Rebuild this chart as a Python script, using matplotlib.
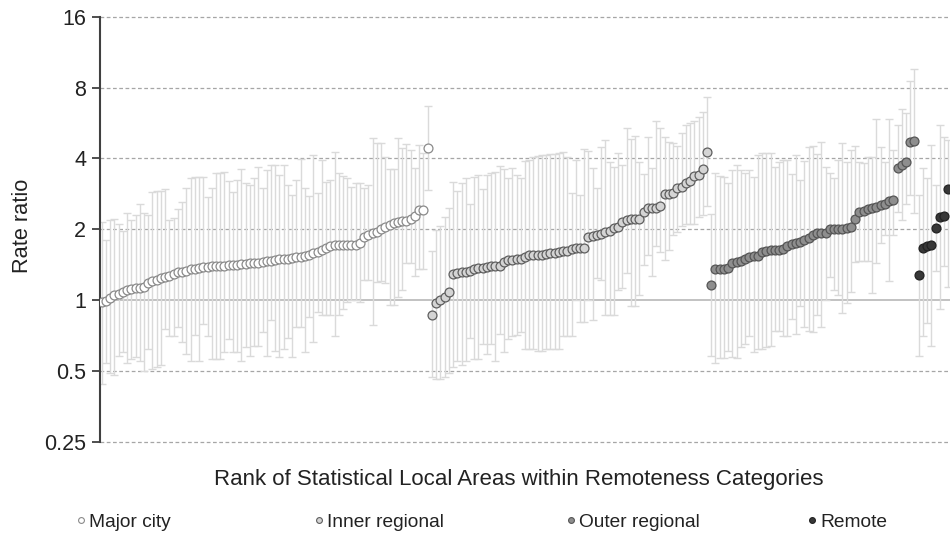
import numpy as np
import matplotlib
matplotlib.use("Agg")
import matplotlib.pyplot as plt
from matplotlib.lines import Line2D

plt.rcParams['font.family'] = ['Liberation Sans', 'DejaVu Sans']

# Rate ratios with 95% confidence limits, ranked within remoteness category
major_rr = [0.98, 0.99, 1.02, 1.05, 1.06, 1.085, 1.10, 1.11, 1.12, 1.13, 1.14, 1.18, 1.21, 1.22,
            1.24, 1.25, 1.26, 1.29, 1.31, 1.32, 1.33, 1.35, 1.36, 1.37, 1.375, 1.385, 1.39, 1.395,
            1.40, 1.40, 1.41, 1.41, 1.415, 1.42, 1.42, 1.43, 1.435, 1.44,
            1.45, 1.46, 1.47, 1.48, 1.49, 1.49, 1.50, 1.51, 1.52, 1.53, 1.54, 1.56, 1.58, 1.60,
            1.63, 1.67, 1.70, 1.71, 1.72, 1.72, 1.72, 1.72, 1.72, 1.74, 1.86, 1.89, 1.92, 1.95,
            2.00, 2.04, 2.08, 2.13, 2.15, 2.17, 2.17, 2.22, 2.27, 2.41, 2.41, 4.43]
major_lo = [0.44, 0.54, 0.49, 0.48, 0.58, 0.60, 0.54, 0.56, 0.57, 0.55, 0.50, 0.62, 0.51, 0.52,
            0.53, 0.75, 0.70, 0.70, 0.77, 0.66, 0.59, 0.55, 0.71, 0.55, 0.79, 0.70, 0.56, 0.56,
            0.56, 0.60, 0.68, 0.60, 0.60, 0.55, 0.63, 0.58, 0.64, 0.64, 0.73, 0.58, 0.82, 0.61,
            0.57, 0.62, 0.69, 0.57, 0.77, 0.77, 0.60, 0.85, 0.66, 0.89, 0.86, 0.86, 0.86, 0.70,
            0.86, 0.92, 0.98, 1.00, 1.00, 0.98, 1.22, 1.22, 0.78, 1.19, 1.21, 1.18, 0.95, 0.95,
            1.03, 1.10, 1.43, 1.43, 1.26, 1.36, 1.36, 2.93]
major_hi = [2.15, 1.80, 2.19, 2.22, 2.10, 1.97, 2.34, 2.19, 2.30, 2.56, 2.34, 2.30, 2.88, 2.90,
            2.92, 2.95, 2.19, 2.23, 2.43, 2.60, 3.00, 3.29, 3.34, 3.34, 3.34, 2.73, 3.00, 3.47,
            3.47, 3.51, 3.20, 2.88, 3.23, 3.60, 3.15, 3.08, 3.30, 3.66, 2.98, 3.57, 3.75, 3.75,
            3.39, 3.75, 3.08, 2.79, 3.25, 3.96, 3.00, 2.77, 4.13, 2.84, 3.93, 3.18, 3.23, 4.24,
            3.45, 3.35, 3.29, 3.03, 3.15, 3.15, 3.00, 3.08, 4.89, 4.66, 4.66, 4.06, 3.59, 3.60,
            4.89, 4.41, 4.60, 4.34, 3.65, 4.55, 4.20, 6.68]

inner_rr = [0.86, 0.97, 1.00, 1.03, 1.085, 1.29, 1.30, 1.31, 1.32, 1.33, 1.36, 1.37, 1.37, 1.385,
            1.39, 1.40, 1.40, 1.455, 1.48, 1.48, 1.49, 1.49, 1.53, 1.55, 1.55, 1.55, 1.56, 1.565,
            1.58, 1.59, 1.60, 1.61, 1.61, 1.64, 1.67, 1.67, 1.67, 1.86, 1.87, 1.89, 1.91, 1.94,
            1.97, 2.02, 2.04, 2.15, 2.19, 2.22, 2.22, 2.22, 2.37, 2.45, 2.46, 2.47, 2.51, 2.82,
            2.82, 2.84, 2.98, 3.03, 3.15, 3.21, 3.37, 3.40, 3.61, 4.27]
inner_lo = [0.47, 0.46, 0.46, 0.47, 0.49, 0.52, 0.55, 0.53, 0.55, 0.69, 0.56, 0.56, 0.65, 0.59,
            0.65, 0.55, 0.72, 0.60, 0.68, 0.70, 0.71, 0.73, 0.62, 0.62, 0.62, 0.61, 0.61, 0.62,
            0.62, 0.62, 0.62, 0.70, 0.70, 0.70, 1.00, 0.81, 0.81, 1.00, 0.82, 1.24, 1.22, 0.86,
            0.86, 0.86, 1.10, 1.12, 1.30, 0.94, 0.94, 1.05, 1.41, 1.55, 1.26, 1.69, 1.60, 1.48,
            1.63, 1.89, 1.95, 2.07, 2.10, 2.10, 2.10, 2.26, 2.30, 2.51]
inner_hi = [1.62, 1.98, 2.07, 2.26, 2.45, 3.18, 2.91, 3.13, 3.29, 2.56, 3.34, 3.39, 2.96, 3.39,
            3.47, 3.50, 3.71, 3.59, 3.29, 3.63, 3.39, 3.30, 3.90, 3.95, 4.06, 4.10, 4.13, 4.15,
            4.17, 4.17, 4.22, 4.25, 4.06, 2.85, 3.93, 2.79, 4.37, 4.30, 3.63, 2.98, 4.45, 4.79,
            3.87, 3.69, 4.22, 3.75, 5.37, 4.83, 4.98, 3.87, 3.43, 4.94, 3.63, 5.74, 5.37, 4.94,
            4.70, 4.63, 4.51, 5.13, 5.55, 5.63, 5.78, 6.00, 6.30, 7.29]

outer_rr = [1.16, 1.36, 1.36, 1.36, 1.37, 1.43, 1.455, 1.47, 1.49, 1.53, 1.54, 1.54, 1.60, 1.62,
            1.63, 1.63, 1.63, 1.64, 1.70, 1.73, 1.74, 1.77, 1.80, 1.83, 1.89, 1.92, 1.93, 1.93,
            2.00, 2.00, 2.01, 2.01, 2.03, 2.05, 2.22, 2.37, 2.38, 2.43, 2.46, 2.49, 2.53, 2.57,
            2.63, 2.66, 3.63, 3.75, 3.87, 4.70, 4.75]
outer_lo = [0.58, 0.54, 0.565, 0.565, 0.61, 0.57, 0.565, 0.63, 0.65, 0.70, 0.60, 0.62, 0.62, 0.63,
            0.64, 0.74, 0.74, 0.70, 0.70, 0.83, 0.72, 0.94, 0.77, 0.74, 0.73, 0.86, 0.77, 1.00,
            1.25, 1.10, 1.05, 0.88, 0.97, 1.085, 1.455, 1.47, 1.47, 1.46, 1.07, 1.43, 1.75, 1.89,
            1.20, 1.89, 2.37, 2.19, 2.57, 2.79, 2.35]
outer_hi = [2.32, 3.47, 3.37, 3.32, 3.13, 3.57, 3.75, 3.57, 3.47, 3.57, 3.34, 4.13, 4.20, 4.20,
            4.20, 3.69, 3.87, 3.93, 3.93, 3.43, 4.13, 3.25, 3.90, 4.45, 4.51, 4.17, 4.70, 3.69,
            3.45, 3.29, 3.93, 4.66, 3.87, 4.34, 4.51, 3.87, 3.83, 4.06, 4.06, 5.88, 4.45, 3.87,
            5.90, 4.34, 5.55, 6.50, 6.21, 8.50, 9.60]

remote_rr = [1.28, 1.67, 1.70, 1.72, 2.02, 2.25, 2.27, 2.96]
remote_lo = [0.58, 0.70, 0.80, 0.64, 1.33, 0.92, 1.39, 1.14]
remote_hi = [2.79, 3.63, 3.30, 4.55, 3.08, 5.55, 4.94, 4.80]

categories = ["Major city", "Inner regional", "Outer regional", "Remote"]
y_ticks = [0.25, 0.5, 1, 2, 4, 8, 16]
y_ticklabels = ["0.25", "0.5", "1", "2", "4", "8", "16"]

series = [
    (major_rr, major_lo, major_hi),
    (inner_rr, inner_lo, inner_hi),
    (outer_rr, outer_lo, outer_hi),
    (remote_rr, remote_lo, remote_hi),
]
face = ["#ffffff", "#d4d4d4", "#8e8e8e", "#383838"]
edge = ["#8a8a8a", "#5e5e5e", "#555555", "#222222"]

fig = plt.figure(figsize=(9.5, 5.47), dpi=100)
ax = fig.add_axes([100 / 950, 1 - 441.7 / 547, 1 - 100 / 950, (441.7 - 16.7) / 547])

ax.set_yscale("log", base=2)
ax.set_ylim(0.25, 16)

# reference lines
for t in y_ticks:
    if t == 1:
        ax.axhline(t, color="#b8b8b8", lw=1.2, zorder=0.5)
    else:
        ax.axhline(t, color="#a6a6a6", lw=0.9, ls=(0, (3, 2)), zorder=0.5, clip_on=False)

start = 0
markers = []
for (rr, lo, hi), fc, ec in zip(series, face, edge):
    rr = np.array(rr)
    lo = np.array(lo)
    hi = np.array(hi)
    x = np.arange(start, start + len(rr))
    ax.errorbar(x, rr, yerr=[rr - lo, hi - rr], fmt="none", ecolor="#dadada",
                elinewidth=1.0, capsize=2.8, capthick=1.0, zorder=1)
    markers.append((x, rr, fc, ec))
    start += len(rr)

for x, rr, fc, ec in markers:
    ax.plot(x, rr, "o", ms=6.4, mfc=fc, mec=ec, mew=0.9, zorder=3, ls="none")

ax.set_xlim(-0.4, 200.4)
ax.set_yticks(y_ticks)
ax.set_yticklabels(y_ticklabels)
ax.yaxis.set_minor_locator(matplotlib.ticker.NullLocator())
ax.tick_params(axis="y", which="major", direction="out", length=6, width=1.3,
               color="#404040", labelsize=15.5, labelcolor="#222222", pad=4)
ax.set_xticks([])
for s in ["top", "right", "bottom"]:
    ax.spines[s].set_visible(False)
ax.spines["left"].set_color("#404040")
ax.spines["left"].set_linewidth(1.5)

fig.text(23 / 950, 1 - 226 / 547, "Rate ratio", rotation=90, va="center", ha="center",
         fontsize=15.7, color="#222222")
fig.text(519 / 950, 1 - 480 / 547, "Rank of Statistical Local Areas within Remoteness Categories",
         ha="center", va="center", fontsize=16, color="#222222")

# legend entries placed individually along the bottom
leg_x = [75, 313, 565, 806]
for lx, name, fc, ec in zip(leg_x, categories, face, edge):
    h = Line2D([], [], marker="o", ls="none", ms=4.2, mfc=fc, mec=ec, mew=0.8)
    lg = fig.legend(handles=[h], labels=[name], loc="center left",
                    bbox_to_anchor=(lx / 950, 1 - 522 / 547), frameon=False,
                    handlelength=0.6, handletextpad=0.15, borderpad=0, borderaxespad=0,
                    fontsize=13.8)
    for t in lg.get_texts():
        t.set_color("#222222")

fig.savefig("out.png", dpi=100)
